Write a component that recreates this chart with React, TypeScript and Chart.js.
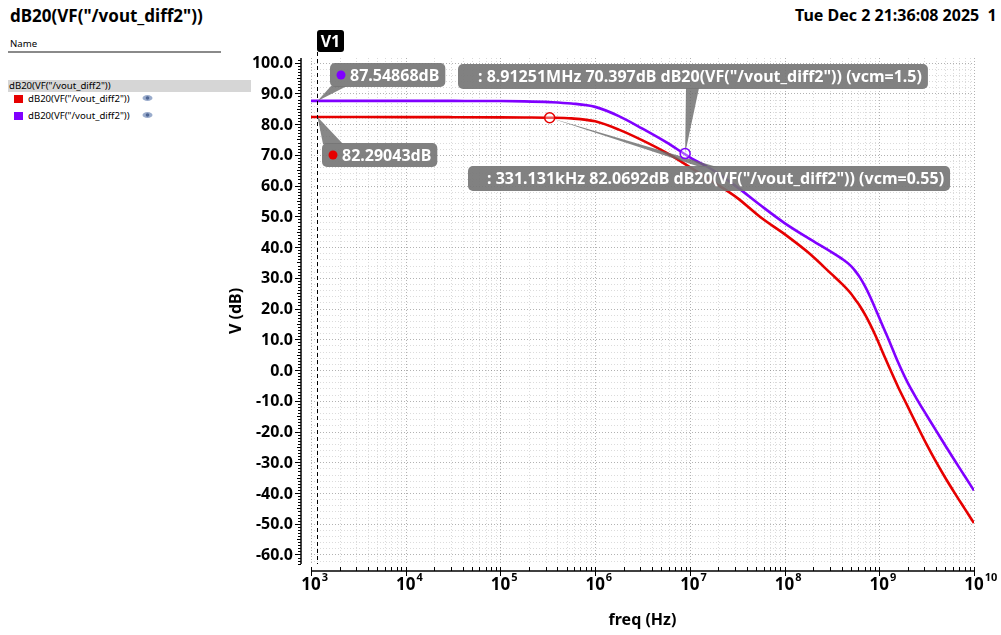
import { useEffect, useRef } from "react";
import { Chart, registerables } from "chart.js";

Chart.register(...registerables);

// ---------- data ----------
const freqHz = [
  1e3, 3.16e3, 1e4, 3.16e4, 1e5, 1.78e5, 3.31e5, 5.62e5, 1e6, 1.78e6, 3.16e6, 5.62e6,
  1e7, 1.78e7, 3.16e7, 5.62e7, 1e8, 1.78e8, 3.16e8, 3.98e8, 5.01e8, 5.62e8, 6.31e8,
  7.08e8, 7.94e8, 8.91e8, 1e9, 1.12e9, 1.26e9, 1.58e9, 2e9, 2.51e9, 3.16e9, 3.98e9,
  5.01e9, 6.31e9, 7.94e9, 1e10,
];
const gainVcm055 = [
  82.29, 82.29, 82.28, 82.25, 82.2, 82.15, 82.07, 81.85, 80.9, 78.2, 74.7, 70.7,
  66.0, 61.1, 56.0, 49.6, 44.2, 38.2, 31.1, 28.2, 24.9, 22.8, 20.6,
  18.0, 15.1, 11.9, 8.4, 4.8, 1.2, -5.5, -11.9, -18.1, -24.2, -29.9,
  -35.2, -40.2, -45.0, -49.8,
];
const gainVcm15 = [
  87.55, 87.55, 87.55, 87.54, 87.5, 87.4, 87.15, 86.7, 85.6, 82.6, 78.5, 74.1,
  69.2, 64.9, 59.5, 53.5, 47.8, 42.9, 38.3, 36.3, 33.9, 32.1, 29.9,
  27.2, 24.1, 20.6, 17.0, 13.4, 9.8, 2.5, -4.2, -9.6, -14.7, -19.7,
  -24.7, -29.6, -34.4, -39.2,
];
const seriesNames = ['dB20(VF("/vout_diff2"))', 'dB20(VF("/vout_diff2"))'];
const yTickValues = [100, 90, 80, 70, 60, 50, 40, 30, 20, 10, 0, -10, -20, -30, -40, -50, -60];
const xDecades = [3, 4, 5, 6, 7, 8, 9, 10];

// markers
const v1Freq = 1166;
const v1Values = [82.29043, 87.54868];
const markA = { f: 331131, v: 82.0692 };
const markB = { f: 8.91251e6, v: 70.397 };

const RED = "#e60000";
const PURPLE = "#8000ff";

const X_MIN = 1e3;
const X_MAX = 1e10;
const Y_MIN = -63.1;
const Y_MAX = 101.5;

const BOXFILL = "rgba(118,118,118,0.92)";
const WEDGE = "rgba(105,105,105,0.8)";
const FONT = "'Noto Sans', 'DejaVu Sans', sans-serif";

function drawWedge(ctx: CanvasRenderingContext2D, a: number[], b: number[], apex: number[]) {
  ctx.fillStyle = WEDGE;
  ctx.beginPath();
  ctx.moveTo(a[0], a[1]);
  ctx.lineTo(b[0], b[1]);
  ctx.lineTo(apex[0], apex[1]);
  ctx.closePath();
  ctx.fill();
}

function drawTag(
  ctx: CanvasRenderingContext2D,
  x: number,
  y: number,
  h: number,
  text: string,
  padL: number,
  dot: string | null
) {
  ctx.font = `bold 16px ${FONT}`;
  const tw = ctx.measureText(text).width;
  const w = padL + tw + 6;
  ctx.fillStyle = BOXFILL;
  ctx.beginPath();
  (ctx as any).roundRect(x, y, w, h, 5);
  ctx.fill();
  if (dot) {
    ctx.fillStyle = dot;
    ctx.beginPath();
    ctx.arc(x + 11, y + h / 2, 4.5, 0, Math.PI * 2);
    ctx.fill();
  }
  ctx.fillStyle = "#fff";
  ctx.textAlign = "left";
  ctx.textBaseline = "middle";
  ctx.fillText(text, x + padL, y + h / 2 + 1);
}

const vivaPlugin = {
  id: "viva",
  beforeDatasetsDraw(chart: any) {
    const { ctx, chartArea: ca } = chart;
    const xs = chart.scales.x;
    const ys = chart.scales.y;
    ctx.save();
    ctx.lineWidth = 1;
    ctx.setLineDash([1, 2]);
    for (let d = 3; d <= 10; d++) {
      for (let m = 1; m <= 9; m++) {
        const f = m * Math.pow(10, d);
        if (f > X_MAX * 1.0001) break;
        const x = Math.round(xs.getPixelForValue(f)) + 0.5;
        ctx.strokeStyle = m === 1 ? "rgba(0,0,0,0.30)" : "rgba(0,0,0,0.14)";
        ctx.beginPath();
        ctx.moveTo(x, ca.top);
        ctx.lineTo(x, ca.bottom);
        ctx.stroke();
      }
    }
    for (let v = -62; v <= 100; v += 2) {
      const y = Math.round(ys.getPixelForValue(v)) + 0.5;
      ctx.strokeStyle = v % 10 === 0 ? "rgba(0,0,0,0.30)" : "rgba(0,0,0,0.14)";
      ctx.beginPath();
      ctx.moveTo(ca.left, y);
      ctx.lineTo(ca.right, y);
      ctx.stroke();
    }
    ctx.restore();
  },
  afterDatasetsDraw(chart: any) {
    const { ctx, chartArea: ca } = chart;
    const xs = chart.scales.x;
    const ys = chart.scales.y;
    ctx.save();

    // V1 vertical marker
    const vx = Math.round(xs.getPixelForValue(v1Freq)) + 0.5;
    ctx.strokeStyle = "#000";
    ctx.lineWidth = 1;
    ctx.setLineDash([4, 3]);
    ctx.beginPath();
    ctx.moveTo(vx, 52);
    ctx.lineTo(vx, ca.bottom);
    ctx.stroke();
    ctx.setLineDash([]);
    ctx.fillStyle = "#000";
    ctx.beginPath();
    (ctx as any).roundRect(vx - 0.5, 30, 27, 22, 3);
    ctx.fill();
    ctx.fillStyle = "#fff";
    ctx.font = `bold 16px ${FONT}`;
    ctx.textAlign = "center";
    ctx.textBaseline = "middle";
    ctx.fillText("V1", vx + 13, 42);

    const pRed = [vx, ys.getPixelForValue(v1Values[0])];
    const pPur = [vx, ys.getPixelForValue(v1Values[1])];
    const pA = [xs.getPixelForValue(markA.f), ys.getPixelForValue(markA.v)];
    const pB = [xs.getPixelForValue(markB.f), ys.getPixelForValue(markB.v)];

    // wedges
    drawWedge(ctx, [331, 86], [347, 86], pPur);
    drawWedge(ctx, [323, 144], [343, 144], pRed);
    drawWedge(ctx, [686, 88], [699, 88], pB);
    drawWedge(ctx, [700, 167], [717, 167], pA);

    // point markers
    const ring = (p: number[], c: string) => {
      ctx.strokeStyle = c;
      ctx.lineWidth = 1.5;
      ctx.fillStyle = "rgba(255,255,255,0.35)";
      ctx.beginPath();
      ctx.arc(p[0], p[1], 5, 0, Math.PI * 2);
      ctx.fill();
      ctx.stroke();
    };
    ring(pA, RED);
    ring(pB, PURPLE);

    // tags
    drawTag(ctx, 330, 63, 24, `${v1Values[1].toFixed(5)}dB`, 20, PURPLE);
    drawTag(ctx, 322, 143, 24, `${v1Values[0].toFixed(5)}dB`, 20, RED);
    drawTag(ctx, 458, 64, 25, ': 8.91251MHz 70.397dB dB20(VF("/vout_diff2")) (vcm=1.5)', 20, null);
    drawTag(ctx, 468, 166, 25, ': 331.131kHz 82.0692dB dB20(VF("/vout_diff2")) (vcm=0.55)', 19, null);

    ctx.restore();
  },
  afterDraw(chart: any) {
    const { ctx, chartArea: ca } = chart;
    const xs = chart.scales.x;
    const ys = chart.scales.y;
    ctx.save();
    ctx.strokeStyle = "#000";
    ctx.fillStyle = "#000";
    ctx.lineWidth = 1.5;

    // Y axis
    const ax = 301;
    ctx.beginPath();
    ctx.moveTo(ax, ca.top);
    ctx.lineTo(ax, ca.bottom);
    ctx.stroke();
    ctx.lineWidth = 1;
    for (let v = -63; v <= 101; v++) {
      const y = Math.round(ys.getPixelForValue(v)) + 0.5;
      const len = v % 10 === 0 ? 6 : v % 5 === 0 ? 4 : 3;
      ctx.beginPath();
      ctx.moveTo(ax - len, y);
      ctx.lineTo(ax, y);
      ctx.stroke();
    }
    ctx.font = `bold 16px ${FONT}`;
    ctx.textAlign = "right";
    ctx.textBaseline = "middle";
    for (const v of yTickValues) {
      ctx.fillText(v.toFixed(1), 293, ys.getPixelForValue(v) + 1);
    }

    // X axis
    const ay = 571;
    ctx.lineWidth = 1.5;
    ctx.beginPath();
    ctx.moveTo(ca.left, ay);
    ctx.lineTo(ca.right, ay);
    ctx.stroke();
    ctx.lineWidth = 1;
    for (let d = 3; d <= 10; d++) {
      for (let m = 1; m <= 9; m++) {
        const f = m * Math.pow(10, d);
        if (f > X_MAX * 1.0001) break;
        const x = Math.round(xs.getPixelForValue(f)) + 0.5;
        ctx.beginPath();
        if (m === 1) {
          ctx.moveTo(x, ay - 4);
          ctx.lineTo(x, ay + 5);
        } else {
          ctx.moveTo(x, ay - 4);
          ctx.lineTo(x, ay);
        }
        ctx.stroke();
      }
    }
    for (const d of xDecades) {
      const x = xs.getPixelForValue(Math.pow(10, d));
      ctx.font = `bold 17px ${FONT}`;
      ctx.textAlign = "center";
      ctx.textBaseline = "top";
      const w = ctx.measureText("10").width;
      ctx.fillText("10", x, 577);
      ctx.font = `bold 11px ${FONT}`;
      ctx.textAlign = "left";
      ctx.fillText(String(d), x + w / 2 + 1, 572);
    }

    // axis titles
    ctx.font = `bold 16px ${FONT}`;
    ctx.textAlign = "center";
    ctx.textBaseline = "middle";
    ctx.fillText("freq (Hz)", (ca.left + ca.right) / 2, 620);
    ctx.save();
    ctx.translate(236, (ca.top + ca.bottom) / 2);
    ctx.rotate(-Math.PI / 2);
    ctx.fillText("V (dB)", 0, 0);
    ctx.restore();

    ctx.restore();
  },
};

function Eye() {
  return (
    <svg width="11" height="8" viewBox="0 0 11 8" style={{ position: "absolute", left: 128, top: 0 }}>
      <ellipse cx="5.5" cy="4" rx="5" ry="3" fill="#9aaccc" />
      <circle cx="5.5" cy="4" r="1.8" fill="#4f6694" />
    </svg>
  );
}

export default function App() {
  const ref = useRef<HTMLCanvasElement | null>(null);

  useEffect(() => {
    if (!ref.current) return;
    const chart = new Chart(ref.current, {
      type: "line",
      data: {
        datasets: [
          {
            label: seriesNames[0] + " (vcm=0.55)",
            data: freqHz.map((f, i) => ({ x: f, y: gainVcm055[i] })),
            borderColor: RED,
            borderWidth: 2.6,
            pointRadius: 0,
            cubicInterpolationMode: "monotone",
            fill: false,
          },
          {
            label: seriesNames[1] + " (vcm=1.5)",
            data: freqHz.map((f, i) => ({ x: f, y: gainVcm15[i] })),
            borderColor: PURPLE,
            borderWidth: 2.6,
            pointRadius: 0,
            cubicInterpolationMode: "monotone",
            fill: false,
          },
        ],
      },
      options: {
        animation: false,
        responsive: false,
        devicePixelRatio: 1,
        layout: { padding: { left: 311, right: 27, top: 58, bottom: 71 } },
        scales: {
          x: { type: "logarithmic", min: X_MIN, max: X_MAX, display: false },
          y: { type: "linear", min: Y_MIN, max: Y_MAX, display: false },
        },
        plugins: { legend: { display: false }, tooltip: { enabled: false } },
      },
      plugins: [vivaPlugin],
    } as any);
    return () => chart.destroy();
  }, []);

  const small = { fontSize: 9.6, position: "absolute" as const, whiteSpace: "nowrap" as const, lineHeight: "12px" };

  return (
    <div
      style={{
        position: "absolute",
        left: 0,
        top: 0,
        width: 1001,
        height: 635,
        overflow: "hidden",
        background: "#fff",
        fontFamily: FONT,
        color: "#000",
      }}
    >
      <div style={{ position: "absolute", left: 10, top: 4, fontSize: 17, fontWeight: 700, whiteSpace: "nowrap" }}>
        dB20(VF("/vout_diff2"))
      </div>
      <div style={{ position: "absolute", left: 795, top: 4, fontSize: 16, fontWeight: 700, whiteSpace: "nowrap" }}>
        Tue Dec 2 21:36:08 2025&nbsp;&nbsp;1
      </div>
      <div style={{ ...small, left: 10, top: 38 }}>Name</div>
      <div style={{ position: "absolute", left: 8, top: 51, width: 213, height: 2, background: "#8a8a8a" }} />
      <div style={{ position: "absolute", left: 8, top: 80, width: 243, height: 12, background: "#d6d6d6" }} />
      <div style={{ ...small, left: 9, top: 80 }}>{seriesNames[0]}</div>
      <div style={{ position: "absolute", left: 14, top: 94, width: 151, height: 10 }}>
        <div style={{ position: "absolute", left: 0, top: 1, width: 9, height: 8, background: RED }} />
        <div style={{ ...small, left: 14, top: -1 }}>{seriesNames[0]}</div>
        <Eye />
      </div>
      <div style={{ position: "absolute", left: 14, top: 111, width: 151, height: 10 }}>
        <div style={{ position: "absolute", left: 0, top: 1, width: 9, height: 8, background: PURPLE }} />
        <div style={{ ...small, left: 14, top: -1 }}>{seriesNames[1]}</div>
        <Eye />
      </div>
      <canvas ref={ref} width={1001} height={635} style={{ position: "absolute", left: 0, top: 0 }} />
    </div>
  );
}
